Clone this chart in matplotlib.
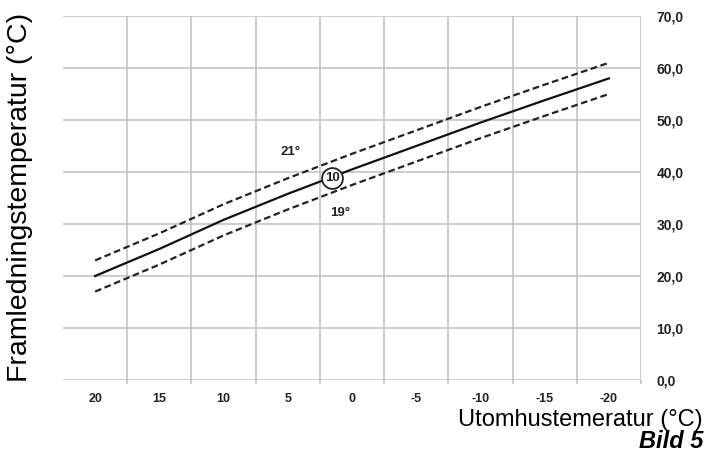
import matplotlib.pyplot as plt
from matplotlib.ticker import FixedLocator

plt.rcParams["font.family"] = ["Liberation Sans", "DejaVu Sans"]

# outdoor temperature categories (Excel style category axis)
outdoor = ["20", "15", "10", "5", "0", "-5", "-10", "-15", "-20"]
# flow temperature for room setpoint 20 (curve 10)
flow_20 = [20.0, 25.2, 30.8, 35.8, 40.5, 45.0, 49.5, 53.8, 58.0]
# room setpoint 21 and 19
flow_21 = [23.0, 28.2, 33.8, 38.8, 43.5, 48.0, 52.5, 56.8, 61.0]
flow_19 = [17.0, 22.2, 27.8, 32.8, 37.5, 42.0, 46.5, 50.8, 55.0]
y_ticks = [0, 10, 20, 30, 40, 50, 60, 70]

grid_col = "#c4c4c4"

fig = plt.figure(figsize=(7.17, 4.59), dpi=100)
ax = fig.add_axes([63 / 717, 1 - 380 / 459, (641 - 63) / 717, (380 - 16) / 459])

x = range(len(outdoor))
ax.plot(x, flow_21, color="#222222", lw=1.6, ls=(0, (3, 1.6)))
ax.plot(x, flow_20, color="#111111", lw=1.6)
ax.plot(x, flow_19, color="#222222", lw=1.6, ls=(0, (3, 1.6)))

ax.set_xlim(-0.5, len(outdoor) - 0.5)
ax.set_ylim(0, 70)

ax.set_xticks(list(x))
ax.set_xticklabels(outdoor, fontsize=9, fontweight="bold", color="#222222")
ax.xaxis.set_minor_locator(FixedLocator([i + 0.5 for i in x]))
ax.tick_params(axis="x", which="major", length=0, pad=9)
ax.tick_params(axis="x", which="minor", length=3, color=grid_col, width=1.2)
ax.grid(True, axis="x", which="minor", color=grid_col, lw=1.2)

ax.yaxis.tick_right()
ax.set_yticks(y_ticks)
ax.set_yticklabels([f"{v:.1f}".replace(".", ",") for v in y_ticks],
                   fontsize=10, fontweight="bold", color="#222222")
ax.tick_params(axis="y", length=0, pad=11)
ax.grid(True, axis="y", which="major", color=grid_col, lw=1.2)
ax.set_axisbelow(True)

for s in ax.spines.values():
    s.set_visible(False)

# curve labels
ax.text(3.04, 43.8, "21°", fontsize=9.5, fontweight="bold", ha="center", va="center",
        color="#222222")
ax.text(3.82, 32.1, "19°", fontsize=9.5, fontweight="bold", ha="center", va="center",
        color="#222222")
ax.plot([3.69], [38.8], marker="o", ms=15, mfc="white", mec="#222222", mew=1.3,
        ls="none", zorder=5)
ax.text(3.69, 38.8, "10", fontsize=9.5, fontweight="bold", ha="center", va="center",
        color="#222222", zorder=6)

fig.text(20 / 717, 1 - 197 / 459, "Framledningstemperatur (°C)", rotation=90,
         fontsize=20.5, ha="center", va="center")
fig.text(703 / 717, 1 - 420 / 459, "Utomhustemeratur (°C)", fontsize=17,
         ha="right", va="center")
fig.text(703 / 717, 1 - 441 / 459, "Bild 5", fontsize=17, fontweight="bold",
         fontstyle="italic", ha="right", va="center")

fig.savefig("out.png", dpi=100)
